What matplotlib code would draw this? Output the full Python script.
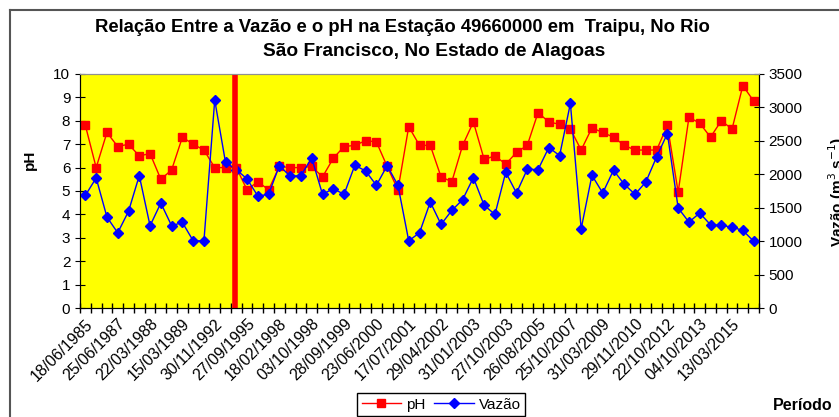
import numpy as np
import matplotlib.pyplot as plt
from matplotlib.lines import Line2D
from matplotlib.transforms import ScaledTranslation

plt.rcParams['font.family'] = ['Liberation Sans', 'DejaVu Sans']

# Dados (63 coletas)
datas = ['18/06/1985', '25/06/1987', '22/03/1988', '15/03/1989', '30/11/1992',
         '27/09/1995', '18/02/1998', '03/10/1998', '28/09/1999', '23/06/2000',
         '17/07/2001', '29/04/2002', '31/01/2003', '27/10/2003', '26/08/2005',
         '25/10/2007', '31/03/2009', '29/11/2010', '22/10/2012', '04/10/2013',
         '13/03/2015']

ph = [7.8, 6.0, 7.5, 6.9, 7.0, 6.5, 6.6, 5.5, 5.9, 7.3,
      7.0, 6.75, 6.0, 6.0, 6.0, 5.05, 5.4, 5.05, 6.05, 6.0,
      6.0, 6.05, 5.6, 6.4, 6.9, 6.95, 7.15, 7.1, 6.05, 5.05,
      7.75, 6.95, 6.95, 5.6, 5.4, 6.95, 7.95, 6.35, 6.5, 6.15,
      6.65, 6.95, 8.35, 7.95, 7.85, 7.65, 6.75, 7.7, 7.5, 7.3,
      6.95, 6.75, 6.75, 6.75, 7.8, 4.95, 8.15, 7.9, 7.3, 8.0,
      7.65, 9.5, 8.85]

vazao = [1685, 1945, 1360, 1125, 1445, 1980, 1230, 1570, 1230, 1280,
         1005, 1005, 3110, 2180, 2070, 1930, 1675, 1700, 2130, 1970,
         1980, 2245, 1700, 1785, 1700, 2135, 2050, 1835, 2130, 1835,
         1005, 1125, 1585, 1250, 1460, 1620, 1950, 1535, 1400, 2030,
         1720, 2075, 2070, 2400, 2280, 3060, 1185, 1985, 1720, 2060,
         1850, 1700, 1885, 2260, 2610, 1495, 1285, 1420, 1245, 1235,
         1210, 1160, 1000]

marco = 13.9  # posicao da linha vermelha vertical

W, H = 839, 417
fig = plt.figure(figsize=(W / 100, H / 100), dpi=100)

# moldura do grafico
fig.add_artist(Line2D([10 / W, 1], [1 - 10 / H, 1 - 10 / H], color='#555555', lw=1.5))
fig.add_artist(Line2D([10 / W, 10 / W], [0, 1 - 10 / H], color='#555555', lw=1.5))

ax = fig.add_axes([80 / W, 1 - 308 / H, 679 / W, 234 / H])
ax2 = ax.twinx()
x = np.arange(len(ph))

ax.set_facecolor('#FFFF00')
ax.plot(x, ph, color='#FF0000', lw=1, marker='s', ms=6, label='pH')
ax2.plot(x, vazao, color='#0000FF', lw=1, marker='D', ms=5.5, label='Vazão')
ax2.axvline(marco, color='#FF0000', lw=4)

ax.set_xlim(-0.5, len(ph) - 0.5)
ax.set_ylim(0, 10)
ax2.set_ylim(0, 3500)
ax.set_yticks(range(0, 11))
ax2.set_yticks(range(0, 3501, 500))
ax.set_xticks(range(0, len(ph), 3))
ax.set_xticklabels(datas, rotation=45, ha='right', rotation_mode='anchor', fontsize=11.5)
desloc = ScaledTranslation(-0.12, -0.05, fig.dpi_scale_trans)
for lab in ax.get_xticklabels():
    lab.set_transform(lab.get_transform() + desloc)
ax.set_xticks(np.arange(-0.5, len(ph), 1), minor=True)
ax.tick_params(axis='x', which='major', length=0, pad=6)
ax.tick_params(axis='x', which='minor', length=7, direction='inout', width=1)
ax.tick_params(axis='y', length=7, direction='inout', labelsize=11)
ax2.tick_params(axis='y', length=7, direction='inout', labelsize=11)

for a in (ax, ax2):
    a.spines['top'].set_color('#909090')
    a.spines['left'].set_color('black')
    a.spines['right'].set_color('black')
    a.spines['bottom'].set_color('black')

fig.text(402 / W, 1 - 27 / H,
         'Relação Entre a Vazão e o pH na Estação 49660000 em  Traipu, No Rio',
         ha='center', va='center', fontsize=13.3, fontweight='bold')
fig.text(434 / W, 1 - 52 / H, 'São Francisco, No Estado de Alagoas',
         ha='center', va='center', fontsize=13.8, fontweight='bold')
fig.text(30 / W, 1 - 160 / H, 'pH', rotation=90, ha='center', va='center',
         fontsize=11, fontweight='bold')
fig.text(837 / W, 1 - 192 / H, 'Vazão (m$^{3}$ s$^{-1}$)', rotation=90,
         ha='center', va='center', fontsize=11, fontweight='bold')
fig.text(773 / W, 1 - 406 / H, 'Período', ha='left', va='center',
         fontsize=11.5, fontweight='bold')

h1, l1 = ax.get_legend_handles_labels()
h2, l2 = ax2.get_legend_handles_labels()
fig.legend(h1 + h2, l1 + l2, loc='upper left', bbox_to_anchor=(357 / W, 1 - 393 / H),
           ncol=2, fontsize=11, frameon=True, fancybox=False, edgecolor='black',
           framealpha=1, borderaxespad=0, handlelength=2.6, handletextpad=0.3,
           columnspacing=0.6, borderpad=0.3)

fig.savefig('out.png', dpi=100)
